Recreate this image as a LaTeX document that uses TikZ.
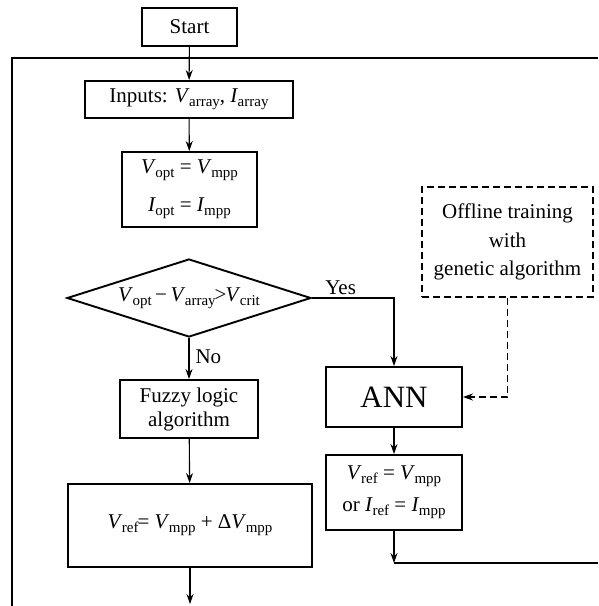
\documentclass[tikz,border=0pt]{standalone}
\usepackage{fontspec}
\setmainfont{Liberation Serif}
\usetikzlibrary{arrows.meta,shapes.geometric}
\newcommand\sbs[1]{\raisebox{-0.42ex}{\fontsize{15}{15}\selectfont #1}}
\newcommand\vv[2]{\textit{#1}\kern-0.5pt\sbs{#2}}
\begin{document}
\begin{tikzpicture}[x=1pt,y=-1pt,
  box/.style={draw,line width=1.9pt,inner sep=0pt,align=center,font=\fontsize{21}{28}\selectfont},
  dbox/.style={draw,line width=1.2pt,dash pattern=on 7pt off 4pt,inner sep=0pt,align=center,font=\fontsize{21}{28.5}\selectfont},
  conn/.style={line width=1.1pt},
  arr/.style={line width=1.1pt,-{Stealth[length=10pt,width=7pt]}},
  lbl/.style={font=\fontsize{21}{25}\selectfont,inner sep=0pt}]
\useasboundingbox (0,0) rectangle (598,606);
\node[box,minimum width=95pt,minimum height=38pt] (start) at (189.5,27) {Start};
\node[box,minimum width=208pt,minimum height=37pt] (inputs) at (189,99.5) {Inputs: \vv{V}{array}, \vv{I}{array}};
\node[box,minimum width=135pt,minimum height=75pt,font=\fontsize{21}{38}\selectfont] (opt) at (189.5,189.5) {\vv{V}{opt} = \vv{V}{mpp}\\ \vv{I}{opt} = \vv{I}{mpp}};
\node[box,diamond,aspect=3.13,minimum width=244pt,minimum height=78pt] (dec) at (189,298) {\vv{V}{opt}\,−\,\vv{V}{array}\kern-1pt>\kern-1pt\vv{V}{crit}};
\node[box,minimum width=138pt,minimum height=58pt,font=\fontsize{21}{24}\selectfont] (fuzzy) at (189,409) {Fuzzy logic\\algorithm};
\node[box,minimum width=244pt,minimum height=83pt] (vrefl) at (190,525.5) {\vv{V}{ref}\kern-1pt= \vv{V}{mpp} + Δ\vv{V}{mpp}};
\node[box,minimum width=136pt,minimum height=60pt,font=\fontsize{31}{31}\selectfont] (ann) at (394,397) {ANN};
\node[box,minimum width=136pt,minimum height=75pt,font=\fontsize{21}{32}\selectfont] (vrefr) at (394,492.5) {\vv{V}{ref} = \vv{V}{mpp}\\ or \vv{I}{ref} = \vv{I}{mpp}};
\node[dbox,minimum width=171pt,minimum height=110pt] (off) at (507.5,242) {Offline training\\with\\genetic algorithm};
\coordinate (fr1) at (598,58);
\coordinate (fr2) at (12,58);
\coordinate (fr3) at (12,606);
\draw[conn] (fr1) -- (fr2) -- (fr3);
\draw[arr] (start) -- (inputs);
\draw[arr] (inputs) -- (opt);
\draw[arr] (dec.south) -- node[lbl,right=6pt,pos=0.45] (no) {No} (fuzzy.north);
\coordinate (yc) at (394,298);
\draw[arr] (dec.east) -- node[lbl,above=3pt,pos=0.35] (yes) {Yes} (yc) -- (ann.north);
\coordinate (dc) at (507.5,397);
\draw[line width=1.2pt,dash pattern=on 7pt off 4pt,-{Stealth[length=10pt,width=7pt]}] (off.south) -- (dc) -- (ann.east);
\draw[arr] (ann) -- (vrefr);
\coordinate (rc) at (394,563);
\coordinate (re) at (598,563);
\draw[arr] (vrefr.south) -- (rc);
\draw[conn] (rc) -- (re);
\draw[arr] (fuzzy) -- (vrefl);
\coordinate (be) at (190,604);
\draw[arr] (vrefl.south) -- (be);
\end{tikzpicture}
\end{document}
